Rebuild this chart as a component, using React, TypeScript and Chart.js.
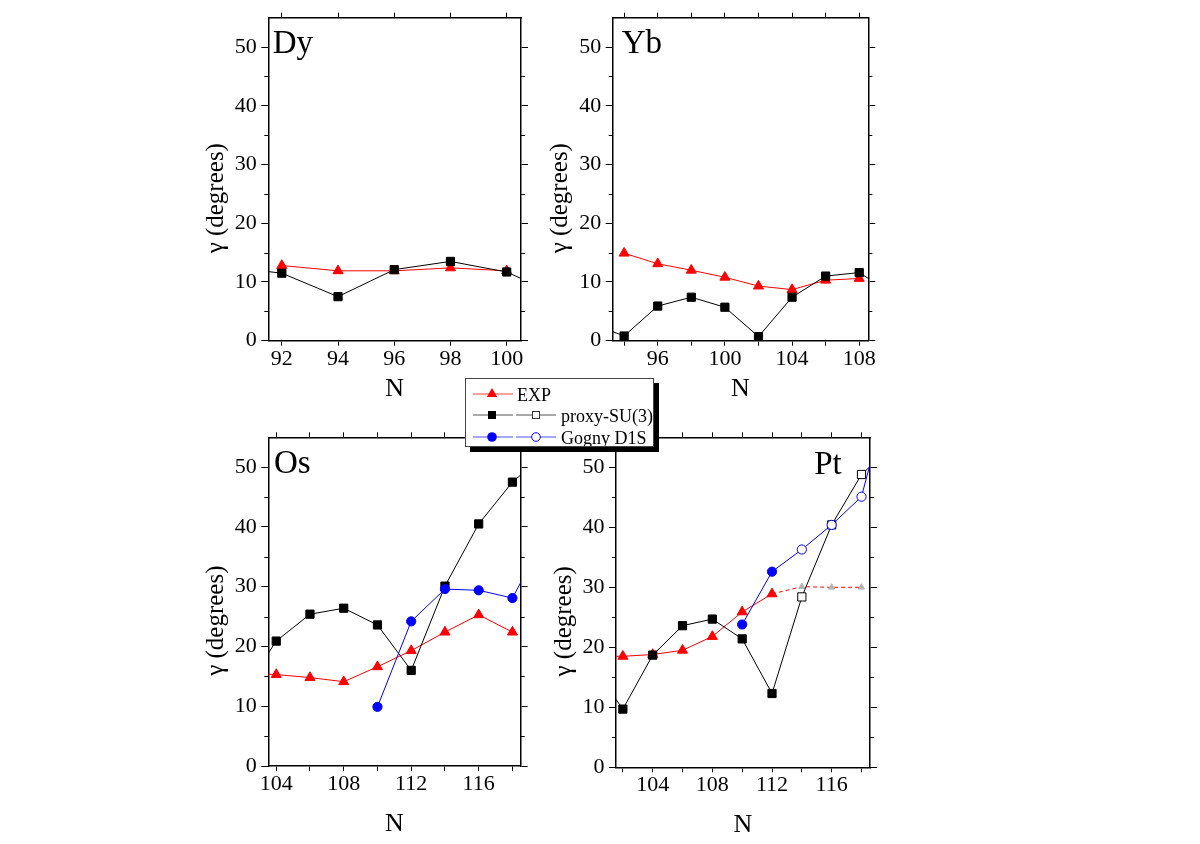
import React, { useEffect, useRef } from 'react';
import { Chart, registerables } from 'chart.js';

Chart.register(...registerables);

const FONT = "'Liberation Serif', 'Times New Roman', serif";

// ---------- data ----------
const yTicks = [0, 10, 20, 30, 40, 50];
const yMinorTicks = [5, 15, 25, 35, 45];

// Dy
const dyXTicks = [92, 94, 96, 98, 100];
const dyExpN = [92, 94, 96, 98, 100];
const dyExp = [12.8, 11.9, 11.9, 12.4, 11.9];
const dyProxyN = [90, 92, 94, 96, 98, 100, 102];
const dyProxy = [12.6, 11.5, 7.5, 12.1, 13.5, 11.7, 7.4];

// Yb
const ybXTicks = [94, 96, 98, 100, 102, 104, 106, 108];
const ybExpN = [94, 96, 98, 100, 102, 104, 106, 108];
const ybExp = [14.9, 13.1, 12.0, 10.8, 9.3, 8.7, 10.3, 10.6];
const ybProxyN = [92, 94, 96, 98, 100, 102, 104, 106, 108, 110];
const ybProxy = [3.0, 0.8, 5.9, 7.4, 5.7, 0.7, 7.4, 11.0, 11.6, 7.9];

// Os
const osXTicks = [104, 106, 108, 110, 112, 114, 116, 118];
const osExpN = [102, 104, 106, 108, 110, 112, 114, 116, 118];
const osExp = [15.5, 15.3, 14.8, 14.1, 16.6, 19.3, 22.4, 25.3, 22.4];
const osProxyN = [102, 104, 106, 108, 110, 112, 114, 116, 118, 120];
const osProxy = [12.3, 20.9, 25.4, 26.4, 23.6, 16.0, 30.1, 40.5, 47.5, 52.4];
const osGognyN = [110, 112, 114, 116, 118, 120];
const osGogny = [9.9, 24.2, 29.6, 29.4, 28.1, 38.7];

// Pt
const ptXTicks = [102, 104, 106, 108, 110, 112, 114, 116, 118];
const ptExpN = [100, 102, 104, 106, 108, 110, 112];
const ptExp = [18.5, 18.5, 18.8, 19.5, 21.8, 25.9, 28.9];
const ptExpEstN = [112, 114, 116, 118];
const ptExpEst = [28.9, 30.1, 30.0, 30.0];
const ptProxyN = [100, 102, 104, 106, 108, 110, 112, 114, 116, 118, 120];
const ptProxy = [16.7, 9.7, 18.7, 23.6, 24.7, 21.4, 12.3, 28.4, 40.4, 48.8, 53.4];
const ptProxyOpen = [false, false, false, false, false, false, false, true, true, true, true];
const ptGognyN = [110, 112, 114, 116, 118, 120];
const ptGogny = [23.8, 32.6, 36.3, 40.4, 45.1, 64];
const ptGognyOpen = [false, false, true, true, true, true];

// ---------- styles ----------
const RED = '#ff0000';
const BLUE = '#0000ff';
const BLACK = '#000000';
const GRAY = '#b4b4b4';

function pts(ns: number[], vals: number[]) {
  return ns.map((x, i) => ({ x, y: vals[i] }));
}

function expSet(ns: number[], vals: number[]) {
  return {
    data: pts(ns, vals),
    showLine: true,
    borderColor: RED,
    borderWidth: 1,
    pointStyle: 'triangle',
    pointRadius: 5.8,
    pointBackgroundColor: RED,
    pointBorderColor: RED,
    pointBorderWidth: 1,
  };
}

function proxySet(ns: number[], vals: number[], open?: boolean[]) {
  return {
    data: pts(ns, vals),
    showLine: true,
    borderColor: BLACK,
    borderWidth: 1,
    pointStyle: 'rect',
    pointRadius: 5.8,
    pointBackgroundColor: ns.map((_, i) => (open && open[i] ? '#ffffff' : BLACK)),
    pointBorderColor: BLACK,
    pointBorderWidth: 1,
  };
}

function gognySet(ns: number[], vals: number[], open?: boolean[]) {
  return {
    data: pts(ns, vals),
    showLine: true,
    borderColor: BLUE,
    borderWidth: 1,
    pointStyle: 'circle',
    pointRadius: 4.6,
    pointBackgroundColor: ns.map((_, i) => (open && open[i] ? '#ffffff' : BLUE)),
    pointBorderColor: BLUE,
    pointBorderWidth: 1,
  };
}

function expEstSet(ns: number[], vals: number[]) {
  return {
    data: pts(ns, vals),
    showLine: true,
    borderColor: RED,
    borderWidth: 1,
    borderDash: [4, 3],
    pointStyle: 'triangle',
    pointRadius: ns.map((_, i) => (i === 0 ? 0 : 3.6)),
    pointBackgroundColor: GRAY,
    pointBorderColor: GRAY,
    pointBorderWidth: 1,
  };
}

type PanelCfg = {
  name: string;
  plot: { left: number; top: number; right: number; bottom: number };
  xMin: number;
  xMax: number;
  xTicks: number[];
  labelStep: number;
  label: { align: 'left' | 'right'; dx: number; dy: number };
  nDy: number;
  datasets: any[];
};

const panels: PanelCfg[] = [
  {
    name: 'Dy',
    plot: { left: 268.3, top: 12.7, right: 521, bottom: 340.7 },
    xMin: 91.52,
    xMax: 100.51,
    xTicks: dyXTicks,
    labelStep: 2,
    label: { align: 'left', dx: 4.4, dy: 35.3 },
    nDy: 48.3,
    datasets: [proxySet(dyProxyN, dyProxy), expSet(dyExpN, dyExp)],
  },
  {
    name: 'Yb',
    plot: { left: 612.7, top: 12.7, right: 868.3, bottom: 340.7 },
    xMin: 93.32,
    xMax: 108.54,
    xTicks: ybXTicks,
    labelStep: 4,
    label: { align: 'left', dx: 9, dy: 35.3 },
    nDy: 48.3,
    datasets: [proxySet(ybProxyN, ybProxy), expSet(ybExpN, ybExp)],
  },
  {
    name: 'Os',
    plot: { left: 268.3, top: 437.3, right: 520.7, bottom: 766 },
    xMin: 103.53,
    xMax: 118.49,
    xTicks: osXTicks,
    labelStep: 4,
    label: { align: 'left', dx: 5.7, dy: 35.7 },
    nDy: 58.5,
    datasets: [gognySet(osGognyN, osGogny), proxySet(osProxyN, osProxy), expSet(osExpN, osExp)],
  },
  {
    name: 'Pt',
    plot: { left: 616, top: 437.3, right: 870, bottom: 767.3 },
    xMin: 101.54,
    xMax: 118.57,
    xTicks: ptXTicks,
    labelStep: 4,
    label: { align: 'right', dx: 28.3, dy: 36.7 },
    nDy: 57.7,
    datasets: [
      gognySet(ptGognyN, ptGogny, ptGognyOpen),
      proxySet(ptProxyN, ptProxy, ptProxyOpen),
      expSet(ptExpN, ptExp),
      expEstSet(ptExpEstN, ptExpEst),
    ],
  },
];

const PADL = 90;
const PADR = 20;
const PADB = 70;
const YW = 40;
const XH = 40;

function decoPlugin(cfg: PanelCfg) {
  return {
    id: 'deco',
    afterDraw(chart: any) {
      const { ctx, chartArea: a, scales } = chart;
      const y = scales.y;
      ctx.save();
      // minor y ticks (left and right)
      ctx.strokeStyle = '#000';
      ctx.lineWidth = 1;
      ctx.beginPath();
      for (const v of yMinorTicks) {
        const py = Math.round(y.getPixelForValue(v)) + 0.5;
        ctx.moveTo(a.left - 4, py);
        ctx.lineTo(a.left, py);
        ctx.moveTo(a.right, py);
        ctx.lineTo(a.right + 4, py);
      }
      ctx.stroke();

      // element label
      ctx.fillStyle = '#000';
      ctx.font = `33px ${FONT}`;
      ctx.textBaseline = 'alphabetic';
      if (cfg.label.align === 'right') {
        ctx.textAlign = 'right';
        ctx.fillText(cfg.name, a.right - cfg.label.dx, a.top + cfg.label.dy);
      } else {
        ctx.textAlign = 'left';
        ctx.fillText(cfg.name, a.left + cfg.label.dx, a.top + cfg.label.dy);
      }

      // x title
      ctx.font = `26px ${FONT}`;
      ctx.textAlign = 'center';
      ctx.textBaseline = 'middle';
      ctx.fillText('N', (a.left + a.right) / 2, a.bottom + cfg.nDy);

      // y title
      ctx.translate(a.left - 52, (a.top + a.bottom) / 2 + 19);
      ctx.rotate(-Math.PI / 2);
      ctx.font = `25px ${FONT}`;
      ctx.textAlign = 'center';
      ctx.textBaseline = 'middle';
      ctx.fillText('γ (degrees)', 0, 0);
      ctx.restore();
    },
  };
}

function Panel({ cfg }: { cfg: PanelCfg }) {
  const ref = useRef<HTMLCanvasElement | null>(null);
  const p = cfg.plot;
  const cLeft = Math.floor(p.left - PADL);
  const cTop = Math.max(0, Math.floor(p.top - 20));
  const cW = Math.ceil(p.right + PADR - cLeft);
  const cH = Math.ceil(p.bottom + PADB - cTop);

  useEffect(() => {
    if (!ref.current) return;
    const xTickSet = (s: any) => {
      s.ticks = cfg.xTicks.map((v) => ({ value: v }));
    };
    const yTickSet = (s: any) => {
      s.ticks = yTicks.map((v) => ({ value: v }));
    };
    const border = { display: true, color: '#000', width: 1.5 };
    const tickFont = { family: FONT, size: 22 };
    const chart = new Chart(ref.current, {
      type: 'scatter',
      data: { datasets: cfg.datasets },
      options: {
        responsive: false,
        animation: false,
        events: [],
        layout: {
          padding: {
            left: p.left - cLeft - YW,
            top: p.top - cTop,
            right: cLeft + cW - p.right,
            bottom: cTop + cH - p.bottom - XH,
          },
        },
        plugins: { legend: { display: false }, tooltip: { enabled: false } },
        scales: {
          x: {
            type: 'linear',
            position: 'bottom',
            min: cfg.xMin,
            max: cfg.xMax,
            afterBuildTicks: xTickSet,
            afterFit: (s: any) => {
              s.height = XH;
            },
            ticks: {
              autoSkip: false,
              maxRotation: 0,
              padding: 0,
              color: '#000',
              font: tickFont,
              callback: (v: any) => (Number(v) % cfg.labelStep === 0 ? String(v) : ''),
            },
            grid: { drawOnChartArea: false, drawTicks: true, tickLength: 5, color: '#000', lineWidth: 1 },
            border,
          },
          x2: {
            type: 'linear',
            position: 'top',
            min: cfg.xMin,
            max: cfg.xMax,
            afterBuildTicks: xTickSet,
            afterFit: (s: any) => {
              s.height = 0;
            },
            ticks: { display: false },
            grid: { drawOnChartArea: false, drawTicks: true, tickLength: 5, color: '#000', lineWidth: 1 },
            border,
          },
          y: {
            type: 'linear',
            position: 'left',
            min: 0,
            max: 55,
            afterBuildTicks: yTickSet,
            afterFit: (s: any) => {
              s.width = YW;
            },
            ticks: { padding: 4.5, color: '#000', font: tickFont },
            grid: { drawOnChartArea: false, drawTicks: true, tickLength: 7, color: '#000', lineWidth: 1 },
            border,
          },
          y2: {
            type: 'linear',
            position: 'right',
            min: 0,
            max: 55,
            afterBuildTicks: yTickSet,
            afterFit: (s: any) => {
              s.width = 0;
            },
            ticks: { display: false },
            grid: { drawOnChartArea: false, drawTicks: true, tickLength: 7, color: '#000', lineWidth: 1 },
            border,
          },
        },
      } as any,
      plugins: [decoPlugin(cfg)],
    });
    return () => chart.destroy();
  }, []);

  return (
    <canvas
      ref={ref}
      width={cW}
      height={cH}
      style={{ position: 'absolute', left: cLeft, top: cTop, width: cW, height: cH }}
    />
  );
}

function Legend() {
  const rows = [15, 36, 58];
  return (
    <div
      style={{
        position: 'absolute',
        left: 465,
        top: 378,
        width: 187,
        height: 67,
        border: '1px solid #444',
        background: '#fff',
        boxShadow: '5px 5px 0 #000',
        zIndex: 10,
      }}
    >
      <svg width={187} height={67} style={{ position: 'absolute', left: 0, top: 0 }}>
        {/* EXP */}
        <line x1={7} y1={rows[0]} x2={47} y2={rows[0]} stroke="#ff4040" strokeWidth={1} />
        <polygon
          points={`26,${rows[0] - 6} ${26 - 5.2},${rows[0] + 3} ${26 + 5.2},${rows[0] + 3}`}
          fill={RED}
        />
        <text x={51} y={rows[0] + 6.5} fontFamily={FONT} fontSize={18} fill="#000">
          EXP
        </text>
        {/* proxy-SU(3) */}
        <line x1={7} y1={rows[1]} x2={47} y2={rows[1]} stroke="#555" strokeWidth={1} />
        <rect x={22} y={rows[1] - 4} width={8} height={8} fill="#000" />
        <line x1={50} y1={rows[1]} x2={90} y2={rows[1]} stroke="#555" strokeWidth={1} />
        <rect x={66.5} y={rows[1] - 3.5} width={7} height={7} fill="#fff" stroke="#333" strokeWidth={1} />
        <text x={95} y={rows[1] + 6.5} fontFamily={FONT} fontSize={18} fill="#000">
          proxy-SU(3)
        </text>
        {/* Gogny D1S */}
        <line x1={7} y1={rows[2]} x2={47} y2={rows[2]} stroke="#5050ff" strokeWidth={1} />
        <circle cx={26} cy={rows[2]} r={4.8} fill={BLUE} />
        <line x1={50} y1={rows[2]} x2={90} y2={rows[2]} stroke="#5050ff" strokeWidth={1} />
        <circle cx={70} cy={rows[2]} r={4.3} fill="#fff" stroke={BLUE} strokeWidth={1} />
        <text x={95} y={rows[2] + 6.5} fontFamily={FONT} fontSize={18} fill="#000">
          Gogny D1S
        </text>
      </svg>
    </div>
  );
}

export default function App() {
  return (
    <div
      style={{
        position: 'absolute',
        left: 0,
        top: 0,
        width: 1200,
        height: 844,
        overflow: 'hidden',
        background: '#fff',
      }}
    >
      {panels.map((cfg) => (
        <Panel key={cfg.name} cfg={cfg} />
      ))}
      <Legend />
    </div>
  );
}
